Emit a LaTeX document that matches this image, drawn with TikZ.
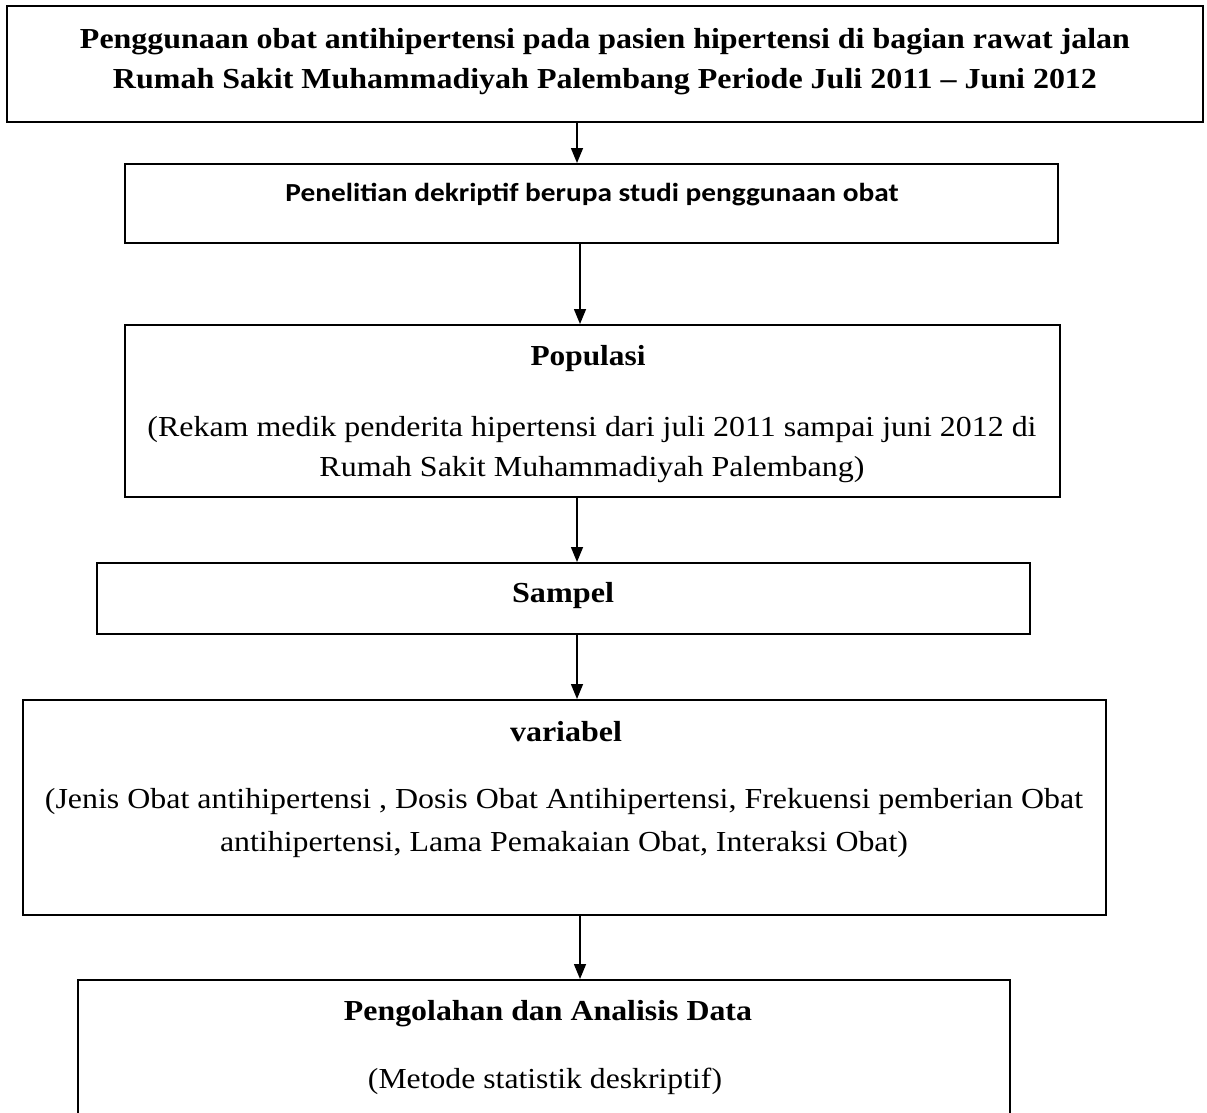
\documentclass[tikz,border=0pt]{standalone}
\usepackage{fontspec}
\usepackage{graphicx}
\setmainfont{Liberation Serif}
\newfontfamily\calibrifont{Carlito}
\usetikzlibrary{arrows.meta}
\newcommand\fitw[2]{\resizebox{#1pt}{\height}{#2}}
\begin{document}
\begin{tikzpicture}[x=1pt,y=-1pt,
  box/.style={draw, line width=2pt, inner sep=0pt},
  arr/.style={line width=1.5pt, -{Triangle[length=15pt,width=12pt]}},
  txt/.style={inner sep=0pt, anchor=mid, yshift=-6pt, font=\fontsize{29}{32}\selectfont},
  btxt/.style={txt, font=\fontsize{29}{32}\selectfont\bfseries},
  ctxt/.style={txt, font=\fontsize{26}{30}\selectfont\calibrifont\bfseries}]
\useasboundingbox (0,0) rectangle (1207,1112);
\clip (0,0) rectangle (1207,1112);
% boxes
\node[box, minimum width=1196pt, minimum height=116pt] (b1) at (605,64) {};
\node[box, minimum width=933pt, minimum height=79pt] (b2) at (591.5,203.5) {};
\node[box, minimum width=935pt, minimum height=172pt] (b3) at (592.5,411) {};
\node[box, minimum width=933pt, minimum height=71pt] (b4) at (563.5,598.5) {};
\node[box, minimum width=1083pt, minimum height=215pt] (b5) at (564.5,807.5) {};
\node[box, minimum width=932pt, minimum height=200pt] (b6) at (544,1080) {};
% texts
\node[btxt] (t1a) at (605,40) {\fitw{1050}{Penggunaan obat antihipertensi pada pasien hipertensi di bagian rawat jalan}};
\node[btxt] (t1b) at (605,80) {\fitw{984}{Rumah Sakit Muhammadiyah Palembang Periode Juli 2011 -- Juni 2012}};
\node[ctxt] (t2) at (592,193) {\fitw{613}{Penelitian dekriptif berupa studi penggunaan obat}};
\node[btxt] (t3a) at (588,357) {\fitw{115}{Populasi}};
\node[txt] (t3b) at (592,428) {\fitw{889}{(Rekam medik penderita hipertensi dari juli 2011 sampai juni 2012 di}};
\node[txt] (t3c) at (592,468) {\fitw{545}{Rumah Sakit Muhammadiyah Palembang)}};
\node[btxt] (t4) at (563,594) {\fitw{102}{Sampel}};
\node[btxt] (t5a) at (566,733) {\fitw{112}{variabel}};
\node[txt] (t5b) at (564,800) {\fitw{1038}{(Jenis Obat antihipertensi , Dosis Obat Antihipertensi, Frekuensi pemberian Obat}};
\node[txt] (t5c) at (564,843) {\fitw{688}{antihipertensi, Lama Pemakaian Obat, Interaksi Obat)}};
\node[btxt] (t6a) at (548,1012) {\fitw{408}{Pengolahan dan Analisis Data}};
\node[txt] (t6b) at (545,1080) {\fitw{354}{(Metode statistik deskriptif)}};
% connectors
\coordinate (c1) at (577,0);
\coordinate (c2) at (580,0);
\coordinate (c3) at (577,0);
\coordinate (c4) at (577,0);
\coordinate (c5) at (580,0);
\draw[arr] (b1.south -| c1) -- (b2.north -| c1);
\draw[arr] (b2.south -| c2) -- (b3.north -| c2);
\draw[arr] (b3.south -| c3) -- (b4.north -| c3);
\draw[arr] (b4.south -| c4) -- (b5.north -| c4);
\draw[arr] (b5.south -| c5) -- (b6.north -| c5);
\end{tikzpicture}
\end{document}
